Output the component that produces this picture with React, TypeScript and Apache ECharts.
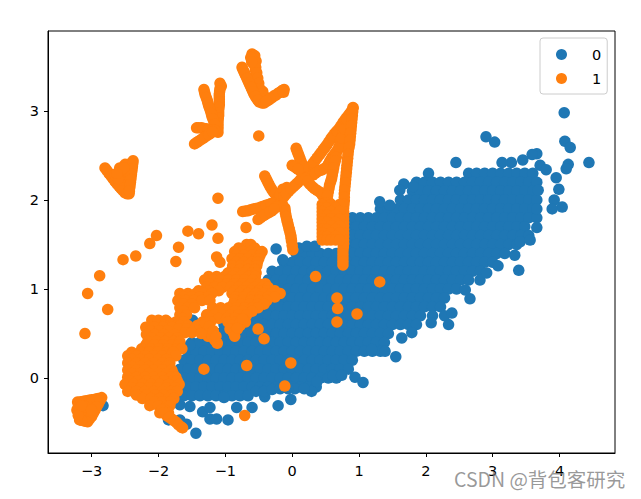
import React, { useEffect, useRef } from "react";
import * as echarts from "echarts";

const seriesNames = ["0", "1"];
const xTicks = [-3, -2, -1, 0, 1, 2, 3, 4];
const yTicks = [0, 1, 2, 3];

// class 0: each row starts with its y value, the rest are x values
const class0Rows: number[][] = [
  [2.3, 2.04, 2.64, 2.76, 2.88, 3.0, 3.12, 3.24, 3.36, 3.48, 3.6],
  [2.2, 1.86, 1.98, 2.1, 2.22, 2.34, 2.46, 2.58, 2.7, 2.82, 2.94, 3.06, 3.18, 3.3, 3.42, 3.54, 3.66],
  [2.1, 1.8, 1.92, 2.04, 2.16, 2.28, 2.4, 2.52, 2.64, 2.76, 2.88, 3.0, 3.12, 3.24, 3.36, 3.48, 3.6],
  [2.0, 1.62, 1.74, 1.86, 1.98, 2.1, 2.22, 2.34, 2.46, 2.58, 2.7, 2.82, 2.94, 3.06, 3.18, 3.3, 3.42, 3.54, 3.66],
  [1.9, 1.32, 1.44, 1.56, 1.68, 1.8, 1.92, 2.04, 2.16, 2.28, 2.4, 2.52, 2.64, 2.76, 2.88, 3.0, 3.12, 3.24, 3.36, 3.48, 3.6],
  [1.8, 0.9, 1.02, 1.14, 1.26, 1.38, 1.5, 1.62, 1.74, 1.86, 1.98, 2.1, 2.22, 2.34, 2.46, 2.58, 2.7, 2.82, 2.94, 3.06, 3.18, 3.3, 3.42, 3.54, 3.66],
  [1.7, 0.84, 0.96, 1.08, 1.2, 1.32, 1.44, 1.56, 1.68, 1.8, 1.92, 2.04, 2.16, 2.28, 2.4, 2.52, 2.64, 2.76, 2.88, 3.0, 3.12, 3.24, 3.36, 3.48],
  [1.6, 0.78, 0.9, 1.02, 1.14, 1.26, 1.38, 1.5, 1.62, 1.74, 1.86, 1.98, 2.1, 2.22, 2.34, 2.46, 2.58, 2.7, 2.82, 2.94, 3.06, 3.18, 3.3, 3.42, 3.54],
  [1.5, 0.84, 0.96, 1.08, 1.2, 1.32, 1.44, 1.56, 1.68, 1.8, 1.92, 2.04, 2.16, 2.28, 2.4, 2.52, 2.64, 2.76, 2.88, 3.0, 3.12, 3.24, 3.36],
  [1.4, 0.06, 0.18, 0.3, 0.42, 0.54, 0.66, 0.78, 0.9, 1.02, 1.14, 1.26, 1.38, 1.5, 1.62, 1.74, 1.86, 1.98, 2.1, 2.22, 2.34, 2.46, 2.58, 2.7, 2.82, 2.94, 3.06, 3.18],
  [1.3, -0.12, 0, 0.12, 0.24, 0.36, 0.48, 0.6, 0.72, 0.84, 0.96, 1.08, 1.2, 1.32, 1.44, 1.56, 1.68, 1.8, 1.92, 2.04, 2.16, 2.28, 2.4, 2.52, 2.64, 2.76, 2.88, 3.0],
  [1.2, -0.3, -0.18, -0.06, 0.06, 0.18, 0.3, 0.42, 0.54, 0.66, 0.78, 0.9, 1.02, 1.14, 1.26, 1.38, 1.5, 1.62, 1.74, 1.86, 1.98, 2.1, 2.22, 2.34, 2.46, 2.58, 2.7, 2.82],
  [1.1, -0.36, -0.24, -0.12, 0, 0.12, 0.24, 0.36, 0.48, 0.6, 0.72, 0.84, 0.96, 1.08, 1.2, 1.32, 1.44, 1.56, 1.68, 1.8, 1.92, 2.04, 2.16, 2.28, 2.4, 2.52, 2.64],
  [1.0, -0.42, -0.3, -0.18, -0.06, 0.06, 0.18, 0.3, 0.42, 0.54, 0.66, 0.78, 0.9, 1.02, 1.14, 1.26, 1.38, 1.5, 1.62, 1.74, 1.86, 1.98, 2.1, 2.22, 2.34, 2.46],
  [0.9, -0.48, -0.36, -0.24, -0.12, 0, 0.12, 0.24, 0.36, 0.48, 0.6, 0.72, 0.84, 0.96, 1.08, 1.2, 1.32, 1.44, 1.56, 1.68, 1.8, 1.92, 2.04, 2.16, 2.28],
  [0.8, -0.54, -0.42, -0.3, -0.18, -0.06, 0.06, 0.18, 0.3, 0.42, 0.54, 0.66, 0.78, 0.9, 1.02, 1.14, 1.26, 1.38, 1.5, 1.62, 1.74, 1.86, 1.98, 2.1, 2.22],
  [0.7, -0.6, -0.48, -0.36, -0.24, -0.12, 0, 0.12, 0.24, 0.36, 0.48, 0.6, 0.72, 0.84, 0.96, 1.08, 1.2, 1.32, 1.44, 1.56, 1.68, 1.8, 1.92, 2.1, 2.28],
  [0.6, -1.5, -1.02, -0.9, -0.78, -0.66, -0.54, -0.42, -0.3, -0.18, -0.06, 0.06, 0.18, 0.3, 0.42, 0.54, 0.66, 0.78, 0.9, 1.02, 1.14, 1.26, 1.38, 1.5, 1.62, 1.74, 1.86],
  [0.5, -1.2, -1.08, -0.96, -0.84, -0.72, -0.6, -0.48, -0.36, -0.24, -0.12, 0, 0.12, 0.24, 0.36, 0.48, 0.6, 0.72, 0.84, 0.96, 1.08, 1.2, 1.32, 1.44],
  [0.4, -1.5, -1.38, -1.26, -1.14, -1.02, -0.9, -0.78, -0.66, -0.54, -0.42, -0.3, -0.18, -0.06, 0.06, 0.18, 0.3, 0.42, 0.54, 0.66, 0.78, 0.9, 1.02, 1.14, 1.26, 1.38],
  [0.3, -1.56, -1.44, -1.32, -1.2, -1.08, -0.96, -0.84, -0.72, -0.6, -0.48, -0.36, -0.24, -0.12, 0, 0.12, 0.24, 0.36, 0.48, 0.6, 0.72, 0.84, 0.96, 1.08, 1.2, 1.32],
  [0.2, -1.62, -1.5, -1.38, -1.26, -1.14, -1.02, -0.9, -0.78, -0.66, -0.54, -0.42, -0.3, -0.18, -0.06, 0.06, 0.18, 0.3, 0.42, 0.54, 0.66, 0.78, 0.9],
  [0.1, -1.68, -1.56, -1.44, -1.32, -1.2, -1.08, -0.96, -0.84, -0.72, -0.6, -0.48, -0.36, -0.24, -0.12, 0, 0.12, 0.24, 0.36, 0.48, 0.6, 0.72, 0.84],
  [0.0, -1.62, -1.5, -1.38, -1.26, -1.14, -1.02, -0.9, -0.78, -0.66, -0.54, -0.42, -0.3, -0.18, -0.06, 0.06, 0.18, 0.3, 0.42, 0.54, 0.66],
  [-0.1, -1.68, -1.56, -1.44, -1.32, -1.2, -1.08, -0.96, -0.84, -0.72, -0.6, -0.48, -0.36, -0.24, -0.12, 0, 0.12, 0.24, 0.36],
  [-0.2, -1.62, -1.5, -1.38, -1.26, -1.14, -1.02, -0.9, -0.78, -0.66],
];

// class 0: outlying dots that stand clear of the dense cloud
const class0Outliers: number[][] = [
  [4.07, 2.98], [2.9, 2.71], [3.03, 2.65], [4.08, 2.66], [4.16, 2.59], [4.13, 2.4], [4.1, 2.35], [4.44, 2.42],
  [2.45, 2.42], [3.66, 2.52], [3.59, 2.51], [3.45, 2.45], [3.28, 2.42], [3.14, 2.42], [3.71, 2.39], [3.8, 2.34],
  [3.95, 2.25], [3.99, 2.12], [4.04, 1.92], [3.92, 2.0], [3.89, 1.9], [3.68, 2.11], [3.66, 1.9], [3.66, 1.69],
  [1.67, 2.18], [1.81, 2.15], [1.61, 2.11], [1.31, 1.98], [1.46, 1.94], [0.1, 1.46], [0.22, 1.48], [0.34, 1.48],
  [-0.24, 1.45], [-0.14, 1.33], [-1.49, 0.65], [-1.53, 0.37], [-2.83, -0.31], [-1.85, -0.47], [-1.68, -0.47],
  [-1.58, -0.52], [-1.44, -0.62], [-1.34, -0.38], [-1.23, -0.33], [-1.23, -0.46], [-1.13, -0.46], [-0.96, -0.47],
  [-0.83, -0.33], [-0.6, -0.33], [-0.41, -0.21], [-0.21, -0.31], [-0.02, -0.24], [0.04, -0.12], [0.29, -0.15],
  [0.37, -0.04], [0.61, 0.03], [0.74, 0.03], [0.94, 0.01], [1.06, -0.05], [1.19, 0.32], [1.39, 0.3], [1.55, 0.24],
  [1.64, 0.45], [1.79, 0.51], [2.08, 0.62], [2.34, 0.6], [2.39, 0.73], [2.66, 0.89], [3.39, 1.21], [2.81, 1.1],
  [2.91, 1.18], [3.08, 1.26], [3.33, 1.38], [3.41, 1.53], [3.56, 1.55], [2.59, 0.99], [-1.68, -0.3], [-1.53, -0.32],
  [-0.54, -0.15], [-0.42, -0.15], [-0.3, -0.13], [-0.18, -0.12], [-0.06, -0.12], [0.18, -0.12], [-1.02, -0.22],
];

// class 1: single dots
const class1Single: number[][] = [
  [-0.5, 2.72], [-1.11, 2.02], [-1.2, 1.72], [-1.56, 1.65], [-1.4, 1.62], [-2.03, 1.6], [-2.13, 1.51], [-1.7, 1.47],
  [-1.11, 1.57], [-0.69, 1.69], [-2.34, 1.37], [-2.53, 1.33], [-1.74, 1.31], [-2.88, 1.15], [-3.06, 0.95],
  [-2.76, 0.77], [-3.1, 0.5], [-0.51, 0.55], [-0.42, 0.44], [-1.32, 0.1], [-0.68, 0.14], [-0.02, 0.17],
  [-0.11, -0.09], [-0.71, -0.42], [0.35, 1.14], [1.31, 1.08], [0.67, 0.9], [0.68, 0.78], [0.67, 0.63], [0.97, 0.72],
  [-1.13, 1.36], [-1.08, 1.3],
];

// class 1: dot trails in the upper left shapes
const class1TopChevron: number[][] = [
  [-0.6, 3.64], [-0.58, 3.58], [-0.57, 3.52], [-0.55, 3.46], [-0.54, 3.4], [-0.52, 3.34], [-0.51, 3.28], [-0.49, 3.22],
  [-0.47, 3.16], [-0.45, 3.09], [-0.56, 3.62], [-0.54, 3.56], [-0.44, 3.22], [-0.42, 3.17],
  [-0.575, 3.62], [-0.56, 3.55], [-0.545, 3.49], [-0.53, 3.43], [-0.515, 3.37], [-0.5, 3.31], [-0.485, 3.25], [-0.47, 3.19], [-0.45, 3.13], [-0.62, 3.6], [-0.605, 3.55],
  [-0.75, 3.49], [-0.72, 3.44], [-0.69, 3.39], [-0.66, 3.34], [-0.63, 3.29], [-0.6, 3.24], [-0.57, 3.19], [-0.53, 3.14], [-0.49, 3.1],
  [-0.735, 3.465], [-0.705, 3.415], [-0.675, 3.365], [-0.645, 3.315], [-0.615, 3.265], [-0.585, 3.215], [-0.55, 3.165], [-0.51, 3.12],
  [-0.12, 3.24], [-0.18, 3.21], [-0.24, 3.18], [-0.3, 3.15], [-0.36, 3.12], [-0.42, 3.09],
  [-0.15, 3.23], [-0.21, 3.2], [-0.27, 3.17], [-0.33, 3.135], [-0.39, 3.105], [-0.13, 3.21],
];
const class1Arrow: number[][] = [
  [-1.08, 3.31], [-1.08, 3.25], [-1.09, 3.19], [-1.09, 3.13], [-1.09, 3.07], [-1.1, 3.01], [-1.1, 2.95], [-1.11, 2.89], [-1.11, 2.83], [-1.11, 2.76],
  [-1.06, 3.28], [-1.085, 3.22], [-1.09, 3.16], [-1.09, 3.1], [-1.095, 3.04], [-1.1, 2.98], [-1.105, 2.92], [-1.11, 2.86], [-1.11, 2.8],
  [-1.32, 3.24], [-1.3, 3.18], [-1.27, 3.12], [-1.25, 3.06], [-1.22, 3.0], [-1.2, 2.94], [-1.17, 2.88], [-1.15, 2.82], [-1.13, 2.79],
  [-1.31, 3.21], [-1.285, 3.15], [-1.26, 3.09], [-1.235, 3.03], [-1.21, 2.97], [-1.185, 2.91], [-1.16, 2.85],
  [-1.43, 2.81], [-1.36, 2.81], [-1.29, 2.8], [-1.22, 2.79], [-1.15, 2.78], [-1.4, 2.81], [-1.33, 2.805], [-1.26, 2.795], [-1.19, 2.785],
  [-1.46, 2.63], [-1.4, 2.66], [-1.34, 2.69], [-1.28, 2.72], [-1.22, 2.75], [-1.16, 2.78],
  [-1.43, 2.645], [-1.37, 2.675], [-1.31, 2.705], [-1.25, 2.735], [-1.19, 2.765],
];
const class1Triangle: number[][] = [
  [-2.8, 2.36], [-2.74, 2.3], [-2.68, 2.24], [-2.62, 2.18], [-2.56, 2.13], [-2.5, 2.08], [-2.44, 2.07],
  [-2.38, 2.44], [-2.39, 2.38], [-2.4, 2.32], [-2.41, 2.26], [-2.42, 2.2], [-2.43, 2.14],
  [-2.58, 2.36], [-2.5, 2.4], [-2.45, 2.4], [-2.55, 2.28], [-2.48, 2.3], [-2.5, 2.22], [-2.46, 2.16], [-2.56, 2.22],
  [-2.77, 2.33], [-2.71, 2.27], [-2.65, 2.21], [-2.59, 2.155], [-2.53, 2.105], [-2.47, 2.07], [-2.385, 2.41], [-2.395, 2.35], [-2.405, 2.29],
  [-2.415, 2.23], [-2.425, 2.17], [-2.435, 2.1], [-2.65, 2.28], [-2.6, 2.24], [-2.52, 2.36], [-2.62, 2.3],
];
const class1BottomBlob: number[][] = [
  [-3.21, -0.27], [-3.12, -0.26], [-3.04, -0.25], [-2.96, -0.24], [-2.9, -0.23], [-2.85, -0.22], [-2.9, -0.29],
  [-2.95, -0.36], [-3.0, -0.43], [-3.06, -0.49], [-3.12, -0.48], [-3.18, -0.47], [-3.22, -0.36], [-3.15, -0.38],
  [-3.05, -0.33], [-3.1, -0.4], [-3.2, -0.32], [-2.98, -0.3],
  [-3.16, -0.265], [-3.08, -0.255], [-3.0, -0.245], [-2.93, -0.235], [-2.875, -0.255], [-2.925, -0.325], [-2.975, -0.395], [-3.03, -0.46],
  [-3.09, -0.485], [-3.15, -0.475], [-3.2, -0.42], [-3.1, -0.32], [-3.15, -0.31], [-3.0, -0.36],
];

// class 1: the wedge above the cloud
const class1Wedge: number[][] = [
  [-0.41, 2.27], [-0.37, 2.21], [-0.33, 2.15], [-0.28, 2.09], [-0.23, 2.05], [-0.18, 1.99], [-0.11, 1.91], [-0.1, 1.85], [-0.08, 1.78],
  [-0.06, 1.72], [-0.04, 1.66], [-0.02, 1.6], [-0.01, 1.54], [0.01, 1.44],
  [-0.39, 2.24], [-0.35, 2.18], [-0.305, 2.12], [-0.255, 2.07], [-0.205, 2.02], [-0.145, 1.95], [-0.105, 1.88], [-0.09, 1.815], [-0.07, 1.75],
  [-0.05, 1.69], [-0.03, 1.63], [-0.015, 1.57], [0.0, 1.49],
  [-0.74, 1.87], [-0.66, 1.88], [-0.58, 1.9], [-0.5, 1.91], [-0.43, 1.93], [-0.35, 1.95], [-0.28, 1.97],
  [-0.7, 1.875], [-0.62, 1.89], [-0.54, 1.905], [-0.465, 1.92], [-0.39, 1.94], [-0.315, 1.96],
  [-0.51, 1.78], [-0.44, 1.82], [-0.37, 1.85], [-0.3, 1.88], [-0.24, 1.92], [-0.475, 1.8], [-0.405, 1.835], [-0.335, 1.865], [-0.27, 1.9],
  [-0.18, 2.06], [-0.14, 2.12], [-0.08, 2.14],
  [-0.12, 2.04], [-0.05, 2.1], [0.02, 2.15], [0.09, 2.2], [0.16, 2.26], [0.23, 2.33], [0.29, 2.39], [0.35, 2.45], [0.41, 2.51], [0.47, 2.57],
  [0.52, 2.62], [0.58, 2.69], [0.64, 2.75], [0.7, 2.8], [0.76, 2.87], [0.82, 2.93], [0.88, 2.99], [0.91, 3.04],
  [-0.085, 2.07], [-0.015, 2.125], [0.055, 2.175], [0.125, 2.23], [0.195, 2.295], [0.26, 2.36], [0.32, 2.42], [0.38, 2.48], [0.44, 2.54],
  [0.495, 2.595], [0.55, 2.655], [0.61, 2.72], [0.67, 2.775], [0.73, 2.835], [0.79, 2.9], [0.85, 2.96],
  [0.06, 2.58], [0.09, 2.52], [0.12, 2.46], [0.15, 2.4], [0.18, 2.35], [0.0, 2.39], [0.06, 2.36], [0.12, 2.33],
  [0.075, 2.55], [0.105, 2.49], [0.135, 2.43], [0.165, 2.375], [0.03, 2.375], [0.09, 2.345],
  [0.31, 2.28], [0.38, 2.32], [0.45, 2.34], [0.52, 2.37], [0.56, 2.43], [0.6, 2.48], [0.64, 2.52], [0.68, 2.56], [0.72, 2.65], [0.76, 2.75], [0.8, 2.85], [0.85, 2.95],
  [0.345, 2.3], [0.415, 2.33], [0.485, 2.355], [0.54, 2.4], [0.58, 2.455], [0.62, 2.5], [0.66, 2.54], [0.7, 2.6], [0.74, 2.7], [0.78, 2.8], [0.825, 2.9],
  [0.2, 2.24], [0.26, 2.18], [0.33, 2.13], [0.41, 2.09], [0.49, 2.02], [0.57, 1.96], [0.64, 1.91], [0.68, 1.86],
  [0.23, 2.21], [0.295, 2.155], [0.37, 2.11], [0.45, 2.055], [0.53, 1.99], [0.605, 1.935], [0.66, 1.885],
  [0.66, 2.48], [0.63, 2.4], [0.61, 2.32], [0.59, 2.24], [0.56, 2.17], [0.54, 2.09], [0.52, 2.01], [0.5, 1.93],
  [0.645, 2.44], [0.62, 2.36], [0.6, 2.28], [0.575, 2.205], [0.55, 2.13], [0.53, 2.05], [0.51, 1.97],
  [0.91, 3.03], [0.9, 2.95], [0.89, 2.87], [0.88, 2.79], [0.87, 2.71], [0.86, 2.63], [0.84, 2.55], [0.83, 2.47], [0.82, 2.39], [0.81, 2.31],
  [0.8, 2.23], [0.79, 2.15], [0.78, 2.07], [0.78, 1.99], [0.77, 1.91], [0.77, 1.83], [0.77, 1.75], [0.77, 1.67], [0.77, 1.59], [0.77, 1.51],
  [0.76, 1.43], [0.76, 1.35], [0.76, 1.27],
  [0.905, 2.99], [0.895, 2.91], [0.885, 2.83], [0.875, 2.75], [0.865, 2.67], [0.85, 2.59], [0.835, 2.51], [0.825, 2.43], [0.815, 2.35], [0.805, 2.27],
  [0.795, 2.19], [0.785, 2.11], [0.78, 2.03], [0.775, 1.95], [0.77, 1.87], [0.77, 1.79], [0.77, 1.71], [0.77, 1.63], [0.77, 1.55], [0.765, 1.47],
  [0.76, 1.39], [0.76, 1.31],
];
const class1WedgeRows: number[][] = [
  [1.95, 0.45, 0.58, 0.71],
  [1.91, 0.45, 0.52, 0.65],
  [1.87, 0.45, 0.58, 0.71],
  [1.83, 0.45, 0.52, 0.65],
  [1.79, 0.45, 0.58, 0.71],
  [1.75, 0.45, 0.52, 0.65],
  [1.71, 0.45, 0.58, 0.71],
  [1.67, 0.45, 0.52, 0.65],
  [1.63, 0.45, 0.58, 0.71],
  [1.59, 0.45, 0.52, 0.65],
  [1.55, 0.45, 0.52, 0.58, 0.65, 0.71],
];

// class 1: the dense mass on the lower left of the cloud, y then x values
const class1MassRows: number[][] = [
  [1.5, -0.68, -0.62],
  [1.46, -0.8, -0.56],
  [1.42, -0.86, -0.74, -0.62, -0.5, -0.45],
  [1.38, -0.84, -0.72, -0.6, -0.48],
  [1.34, -0.9, -0.78, -0.66, -0.54, -0.5],
  [1.3, -0.84, -0.72, -0.6, -0.52],
  [1.26, -0.89, -0.77, -0.65, -0.53],
  [1.22, -0.9, -0.78, -0.66, -0.56],
  [1.18, -0.96, -0.84, -0.72, -0.6, -0.54],
  [1.14, -1.25, -1.13, -1.01, -0.89, -0.77, -0.65, -0.55],
  [1.1, -1.31, -1.19, -1.07, -0.95, -0.83, -0.71, -0.59],
  [1.06, -1.25, -1.1, -0.98, -0.86, -0.74, -0.62, -0.5, -0.4],
  [1.02, -1.28, -1.16, -1.04, -0.92, -0.8, -0.68, -0.56, -0.44, -0.36],
  [0.98, -1.4, -1.25, -1.1, -0.86, -0.74, -0.62, -0.5, -0.38, -0.26],
  [0.95, -1.68, -1.56, -1.44, -1.32, -1.2, -0.9, -0.78, -0.66, -0.54, -0.42, -0.3, -0.18],
  [0.91, -1.62, -1.5, -1.38, -1.26, -0.84, -0.72, -0.6, -0.48, -0.36, -0.26],
  [0.87, -1.71, -1.59, -1.47, -1.35, -1.23, -0.86, -0.74, -0.62, -0.5, -0.38],
  [0.83, -1.62, -1.5, -0.88, -0.76, -0.64, -0.52, -0.42],
  [0.79, -1.68, -1.56, -1.46, -1.19, -1.07, -0.95, -0.83, -0.71, -0.59, -0.51],
  [0.75, -1.62, -1.1, -0.98, -0.86, -0.74, -0.6],
  [0.71, -1.68, -1.58, -1.28, -1.16, -1.04, -0.92, -0.8, -0.68],
  [0.67, -1.64, -1.22, -1.1, -0.98, -0.86, -0.74],
  [0.63, -1.98, -1.86, -1.74, -1.62, -1.34, -1.22, -0.96, -0.84, -0.7],
  [0.65, -2.1, -2.0, -1.89],
  [0.59, -1.92, -1.8, -1.68, -1.56, -1.42, -0.9, -0.78],
  [0.57, -2.19, -2.06, -1.93, -1.8],
  [0.55, -1.7, -1.58, -1.46, -1.34, -0.93, -0.82],
  [0.53, -2.12, -1.99, -1.86],
  [0.51, -1.6, -1.5, -1.26, -0.88],
  [0.49, -2.18, -2.05, -1.92, -1.76],
  [0.47, -1.26, -1.19, -0.86],
  [0.45, -2.1, -1.97, -1.84, -1.72],
  [0.41, -2.16, -2.03, -1.9, -1.77, -1.68],
  [0.4, -1.13],
  [0.37, -2.19, -2.06, -1.93, -1.8, -1.7],
  [0.33, -2.25, -2.12, -1.99, -1.86, -1.73, -1.65],
  [0.29, -2.4, -2.27, -2.14, -2.01, -1.88, -1.78],
  [0.25, -2.46, -2.33, -2.2, -2.07, -1.94, -1.81, -1.74],
  [0.21, -2.4, -2.27, -2.14, -2.0, -1.88],
  [0.17, -2.46, -2.33, -2.2, -2.07, -1.94, -1.83],
  [0.13, -2.4, -2.27, -2.14, -2.0, -1.88, -1.85],
  [0.09, -2.46, -2.33, -2.2, -2.07, -1.94, -1.8],
  [0.05, -2.4, -2.27, -2.14, -2.0, -1.88, -1.78],
  [0.01, -2.46, -2.33, -2.2, -2.07, -1.94, -1.81, -1.74],
  [-0.03, -2.44, -2.31, -2.18, -2.05, -1.92, -1.78, -1.72],
  [-0.07, -2.5, -2.37, -2.24, -2.11, -1.98, -1.85, -1.69],
  [-0.11, -2.4, -2.27, -2.14, -2.01, -1.88, -1.75],
  [-0.15, -2.46, -2.33, -2.2, -2.07, -1.94, -1.81, -1.72],
  [-0.19, -2.33, -2.18, -2.05, -1.92, -1.8],
  [-0.23, -2.24, -2.11, -1.98, -1.85, -1.77],
  [-0.27, -2.06, -1.94, -1.82],
  [-0.31, -2.13, -2.0, -1.87, -1.83],
  [-0.35, -1.92],
  [-0.39, -1.98, -1.85],
];
const class1Tail: number[][] = [
  [-1.95, -0.36], [-1.88, -0.42], [-1.8, -0.46], [-1.73, -0.5], [-1.66, -0.55],
  [-1.92, -0.39], [-1.84, -0.44], [-1.765, -0.48], [-1.7, -0.525], [-1.64, -0.56],
];
// class 1: the short arm and the lower tongue of the mass
const class1Arm: number[][] = [
  [-1.38, 0.6], [-1.32, 0.56], [-1.26, 0.52], [-1.2, 0.47], [-1.16, 0.43], [-1.12, 0.39], [-1.3, 0.62], [-1.24, 0.58], [-1.18, 0.53], [-1.14, 0.47], [-1.36, 0.5],
  [-0.78, 0.62], [-0.74, 0.66], [-0.82, 0.56],
];

const fromRows = (rows: number[][]) => rows.flatMap(([y, ...xs]) => xs.map((x) => [x, y]));

const class0 = [...fromRows(class0Rows), ...class0Outliers];
const class1 = [
  ...class1Single,
  ...class1TopChevron,
  ...class1Arrow,
  ...class1Triangle,
  ...class1BottomBlob,
  ...class1Wedge,
  ...fromRows(class1WedgeRows),
  ...fromRows(class1MassRows),
  ...class1Tail,
  ...class1Arm,
];

const minusLabel = (v: number) => String(v).replace("-", "\u2212");
const font = "'DejaVu Sans'";

export default function App() {
  const ref = useRef<HTMLDivElement>(null);
  useEffect(() => {
    const chart = echarts.init(ref.current!, undefined, { renderer: "svg" });
    const axisCommon = {
      type: "value",
      splitLine: { show: false },
      axisLine: { show: true, onZero: false, lineStyle: { color: "#000", width: 1 } },
    };
    chart.setOption({
      animation: false,
      backgroundColor: "#fff",
      grid: { left: 48, top: 31, width: 567, height: 422, show: true, borderColor: "#000", borderWidth: 1, backgroundColor: "#fff" },
      xAxis: {
        ...axisCommon,
        min: -3.653,
        max: 4.83,
        axisTick: { show: true, length: 4, lineStyle: { color: "#000" }, customValues: xTicks },
        axisLabel: { color: "#000", fontFamily: font, fontSize: 14.5, margin: 10, formatter: minusLabel, customValues: xTicks },
      },
      yAxis: {
        ...axisCommon,
        min: -0.842,
        max: 3.898,
        axisTick: { show: true, length: 4, lineStyle: { color: "#000" }, customValues: yTicks },
        axisLabel: { color: "#000", fontFamily: font, fontSize: 14.5, margin: 9, formatter: minusLabel, customValues: yTicks },
      },
      legend: {
        left: 540,
        top: 38,
        orient: "vertical",
        data: seriesNames.map((name) => ({ name, icon: "circle" })),
        itemWidth: 11,
        itemHeight: 11,
        itemGap: 9,
        padding: [9, 6, 8, 16],
        borderColor: "#ccc",
        borderWidth: 1,
        borderRadius: 3,
        backgroundColor: "rgba(255,255,255,0.8)",
        textStyle: { color: "#000", fontFamily: font, fontSize: 14.5, padding: [0, 0, 0, 20] },
      },
      series: [
        { name: seriesNames[0], type: "scatter", data: class0, symbolSize: 11.5, itemStyle: { color: "#1f77b4", opacity: 1 } },
        { name: seriesNames[1], type: "scatter", data: class1, symbolSize: 11.5, itemStyle: { color: "#ff7f0e", opacity: 1 } },
      ],
      graphic: [
        {
          type: "text",
          left: 454,
          top: 469,
          z: 100,
          style: { text: "CSDN @背包客研究", fill: "rgba(120,120,120,0.75)", font: "19.5px 'Noto Sans CJK SC'" },
        },
      ],
    });
    return () => chart.dispose();
  }, []);
  return <div ref={ref} style={{ position: "absolute", left: 0, top: 0, width: 641, height: 499 }} />;
}
